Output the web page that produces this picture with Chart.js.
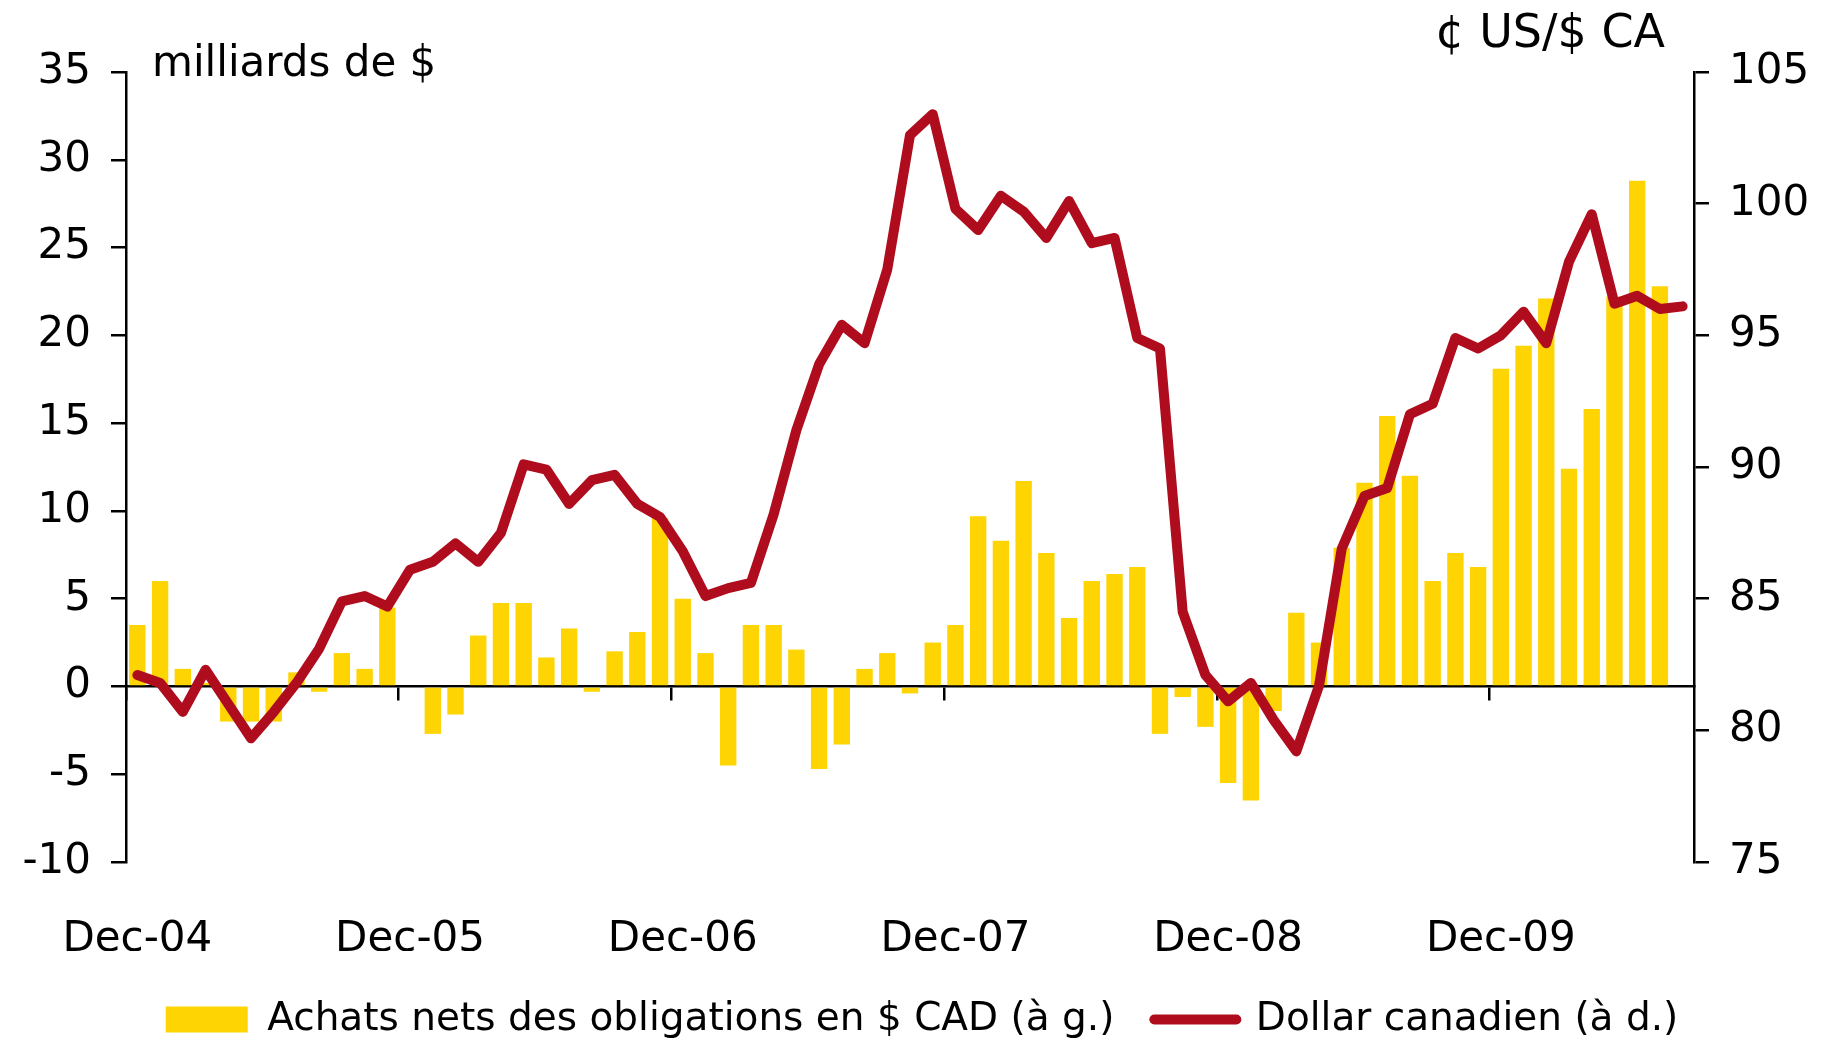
<!DOCTYPE html>
<html>
<head>
<meta charset="utf-8">
<script src="https://cdn.jsdelivr.net/npm/chart.js@4"></script>
<style>
  body { margin: 0; background: #fff; }
  #wrap { width: 1832px; height: 1040px; }
</style>
</head>
<body>
<div id="wrap"><canvas id="chart"></canvas></div>
<script>
// monthly categories, Dec-04 to Aug-10
const months = [
    'Dec-04',
    'Jan-05', 'Feb-05', 'Mar-05', 'Apr-05', 'May-05', 'Jun-05', 'Jul-05', 'Aug-05', 'Sep-05', 'Oct-05', 'Nov-05', 'Dec-05',
    'Jan-06', 'Feb-06', 'Mar-06', 'Apr-06', 'May-06', 'Jun-06', 'Jul-06', 'Aug-06', 'Sep-06', 'Oct-06', 'Nov-06', 'Dec-06',
    'Jan-07', 'Feb-07', 'Mar-07', 'Apr-07', 'May-07', 'Jun-07', 'Jul-07', 'Aug-07', 'Sep-07', 'Oct-07', 'Nov-07', 'Dec-07',
    'Jan-08', 'Feb-08', 'Mar-08', 'Apr-08', 'May-08', 'Jun-08', 'Jul-08', 'Aug-08', 'Sep-08', 'Oct-08', 'Nov-08', 'Dec-08',
    'Jan-09', 'Feb-09', 'Mar-09', 'Apr-09', 'May-09', 'Jun-09', 'Jul-09', 'Aug-09', 'Sep-09', 'Oct-09', 'Nov-09', 'Dec-09',
    'Jan-10', 'Feb-10', 'Mar-10', 'Apr-10', 'May-10', 'Jun-10', 'Jul-10', 'Aug-10'
];

// net purchases of CAD bonds, billions (left axis)
const bondPurchases = [
    3.5,
    6.0, 1.0, 0.2, -2.0, -2.0, -2.0, 0.8, -0.3, 1.9, 1.0, 4.5, 0,
    -2.7, -1.6, 2.9, 4.75, 4.75, 1.65, 3.3, -0.3, 2.0, 3.1, 9.6, 5.0,
    1.9, -4.5, 3.5, 3.5, 2.1, -4.7, -3.3, 1.0, 1.9, -0.4, 2.5, 3.5,
    9.7, 8.3, 11.7, 7.6, 3.9, 6.0, 6.4, 6.8, -2.7, -0.6, -2.3, -5.5,
    -6.5, -1.4, 4.2, 2.5, 7.9, 11.6, 15.4, 12.0, 6.0, 7.6, 6.8, 18.1,
    19.4, 22.1, 12.4, 15.8, 22.2, 28.8, 22.8, null
];

// Canadian dollar, US cents (right axis)
const cadUsd = [
    82.1,
    81.8, 80.7, 82.3, 81.0, 79.7, 80.7, 81.8, 83.1, 84.9, 85.1, 84.7, 86.1,
    86.4, 87.1, 86.4, 87.5, 90.1, 89.9, 88.6, 89.5, 89.7, 88.6, 88.1, 86.8,
    85.1, 85.4, 85.6, 88.2, 91.4, 93.9, 95.4, 94.7, 97.5, 102.6, 103.4, 99.8,
    99.0, 100.3, 99.7, 98.7, 100.1, 98.5, 98.7, 94.9, 94.5, 84.5, 82.1, 81.1,
    81.8, 80.4, 79.2, 81.7, 86.9, 88.9, 89.2, 92.0, 92.4, 94.9, 94.5, 95.0,
    95.9, 94.7, 97.8, 99.6, 96.2, 96.5, 96.0, 96.1
];

const leftTicks = { min: -10, max: 35, step: 5 };
const rightTicks = { min: 75, max: 105, step: 5 };

const BAR_COLOR = '#FED402';
const LINE_COLOR = '#AF0D1E';

Chart.defaults.font.family = '"DejaVu Sans"';
Chart.defaults.color = '#000';

// unit labels above the two y axes
const unitLabels = {
    id: 'unitLabels',
    afterDraw(chart) {
        const { ctx, chartArea } = chart;
        ctx.save();
        ctx.fillStyle = '#000';
        ctx.textBaseline = 'alphabetic';
        ctx.font = '42px "DejaVu Sans"';
        ctx.textAlign = 'left';
        ctx.fillText('milliards de $', chartArea.left + 26, chartArea.top + 4);
        ctx.font = '46px "DejaVu Sans"';
        ctx.textAlign = 'right';
        ctx.fillText('¢ US/$ CA', chartArea.right - 29, chartArea.top - 25);
        ctx.restore();
    }
};

// nudge the legend a little right and down, like the original
const legendNudge = {
    id: 'legendNudge',
    afterLayout(chart) {
        const lg = chart.legend;
        lg.left += 6; lg.right += 6;
        lg.top += 9; lg.bottom += 9;
    }
};

new Chart(document.getElementById('chart'), {
    data: {
        labels: months,
        datasets: [
            {
                type: 'bar',
                label: 'Achats nets des obligations en $ CAD (à g.)',
                data: bondPurchases,
                backgroundColor: BAR_COLOR,
                xAxisID: 'x',
                yAxisID: 'y',
                barPercentage: 0.72,
                categoryPercentage: 1,
                order: 2
            },
            {
                type: 'line',
                label: 'Dollar canadien (à d.)',
                data: cadUsd,
                borderColor: LINE_COLOR,
                borderWidth: 10,
                borderCapStyle: 'round',
                borderJoinStyle: 'round',
                pointRadius: 0,
                tension: 0,
                xAxisID: 'x',
                yAxisID: 'y1',
                order: 1
            }
        ]
    },
    options: {
        responsive: true,
        maintainAspectRatio: false,
        animation: false,
        layout: { padding: { top: 72, left: 0, right: 0, bottom: 0 } },
        plugins: {
            tooltip: { enabled: false },
            legend: {
                position: 'bottom',
                labels: {
                    usePointStyle: true,
                    pointStyleWidth: 82,
                    boxHeight: 26,
                    padding: 40,
                    font: { size: 39 },
                    color: '#000',
                    sort: (a, b) => a.datasetIndex - b.datasetIndex,
                    generateLabels(chart) {
                        return chart.data.datasets.map((ds, i) => ({
                            text: ds.label,
                            datasetIndex: i,
                            fillStyle: ds.type === 'line' ? ds.borderColor : ds.backgroundColor,
                            strokeStyle: ds.type === 'line' ? ds.borderColor : ds.backgroundColor,
                            lineWidth: ds.type === 'line' ? 10 : 0,
                            lineCap: 'round',
                            pointStyle: ds.type === 'line' ? 'line' : 'rect',
                            rotation: 0,
                            fontColor: '#000',
                            hidden: false
                        }));
                    }
                }
            }
        },
        scales: {
            x: {
                type: 'category',
                position: 'bottom',
                offset: true,
                grid: { display: false },
                border: { display: false },
                ticks: {
                    autoSkip: false,
                    maxRotation: 0,
                    padding: 45,
                    font: { size: 42 },
                    callback: (v, i) => (i % 12 === 0 ? months[i] : '')
                },
                afterFit: (scale) => { scale.height = 89; }
            },
            // zero line with a tick mark every December
            x2: {
                type: 'category',
                labels: months,
                position: { y: 0 },
                offset: true,
                z: 1,
                grid: {
                    offset: true,
                    drawOnChartArea: false,
                    drawTicks: true,
                    tickLength: 13,
                    lineWidth: 2.5,
                    color: (ctx) => (ctx.index % 12 === 0 ? '#000' : 'rgba(0,0,0,0)')
                },
                border: { color: '#000', width: 2.5 },
                ticks: { display: false }
            },
            y: {
                position: 'left',
                min: leftTicks.min,
                max: leftTicks.max,
                ticks: { stepSize: leftTicks.step, padding: 20, font: { size: 42 } },
                grid: { drawOnChartArea: false, tickLength: 15, color: '#000', lineWidth: 2.5 },
                border: { color: '#000', width: 2.5 },
                afterFit: (scale) => { scale.width = 126; }
            },
            y1: {
                position: 'right',
                min: rightTicks.min,
                max: rightTicks.max,
                ticks: { stepSize: rightTicks.step, padding: 20, font: { size: 42 } },
                grid: { drawOnChartArea: false, tickLength: 15, color: '#000', lineWidth: 2.5 },
                border: { color: '#000', width: 2.5 },
                afterFit: (scale) => { scale.width = 138; }
            }
        }
    },
    plugins: [unitLabels, legendNudge]
});
</script>
</body>
</html>
